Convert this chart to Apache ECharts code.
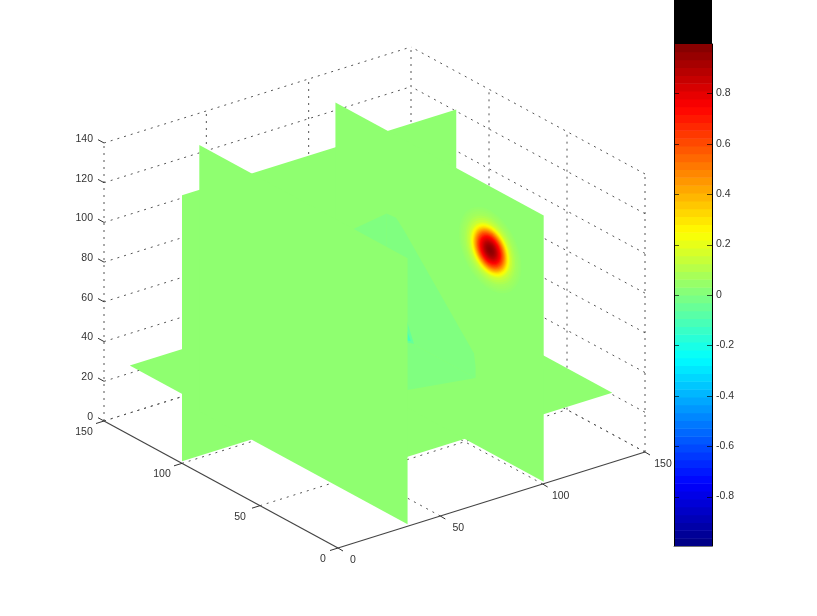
<!DOCTYPE html>
<html>
<head>
<meta charset="utf-8">
<style>
  html, body { margin: 0; padding: 0; background: #fff; }
  #chart { width: 817px; height: 616px; }
</style>
<script src="https://cdn.jsdelivr.net/npm/echarts@6/dist/echarts.min.js"></script>
</head>
<body>
<div id="chart"></div>
<script>
// axis ticks
const uTicks = [0, 50, 100, 150];
const vTicks = [0, 50, 100, 150];
const zTicks = [0, 20, 40, 60, 80, 100, 120, 140];
const barTicks = [-0.8, -0.6, -0.4, -0.2, 0, 0.2, 0.4, 0.6, 0.8];

// volume extent and slice positions
const uRange = [0, 134];
const vRange = [0, 133.5];
const zRange = [1, 135];
const uFront = 34;
const uBack = 100.5;
const vSlice = 100;
const zSlice = 35;

// values shown on the slices
const baseValue = 0.03;
const patchValue = 0;
const spotValues = [-0.05, -0.12];
const barRange = [-0.996, 0.996];
const barCapTop = 1.172;

const patchOnV = [[83.5, 100, 91], [100, 100, 93.6], [100, 100, 35], [60, 100, 35]];
const patchOnU = [[100, 100, 93.6], [100, 94, 94], [100, 89, 90], [100, 44, 47], [100, 43, 40.6], [100, 43, 35], [100, 100, 35]];
const patchOnZ = [[100, 43, 35], [72, 50, 35], [40, 58, 35], [40, 90, 35], [100, 90, 35]];
const spotOuter = [[100, 87.5, 46], [100, 82.5, 35.5], [100, 87.5, 34]];
const spotInner = [[100, 87.5, 41], [100, 84.5, 36], [100, 87.5, 35]];

// the hot spot on the u=100 slice: radius (in axis units) and value at that radius
const hotCentre = [34.3, 103];
const hotRadii = [20, 19, 18, 17, 16, 15, 14, 13, 12.5, 12, 11.5, 11, 10.5, 10, 9.5, 9, 8.5, 8, 7.5, 7, 6.5, 6, 5.5, 5, 4.5, 4, 3.5, 3, 2.5, 2, 1.5, 1];
const hotValues = [0.04, 0.05, 0.06, 0.07, 0.09, 0.11, 0.14, 0.17, 0.2, 0.23, 0.27, 0.31, 0.36, 0.41, 0.46, 0.51, 0.56, 0.61, 0.65, 0.7, 0.74, 0.77, 0.8, 0.83, 0.86, 0.89, 0.91, 0.93, 0.95, 0.96, 0.97, 0.98];

// view of the box, one plot unit is one pixel
function project(u, v, z) {
    return [
        (u * 307 - v * 234) / 150,
        (u * 96 + v * 127) / 150 + z * 1.986
    ];
}

function clip01(a) {
    return Math.max(0, Math.min(1, a));
}

function jet(value) {
    const t = (value + 1) / 2;
    const r = clip01(1.5 - Math.abs(4 * t - 3));
    const g = clip01(1.5 - Math.abs(4 * t - 2));
    const b = clip01(1.5 - Math.abs(4 * t - 1));
    return 'rgb(' + Math.round(r * 255) + ',' + Math.round(g * 255) + ',' + Math.round(b * 255) + ')';
}

function planeU(u) {
    return [[u, vRange[0], zRange[0]], [u, vRange[1], zRange[0]], [u, vRange[1], zRange[1]], [u, vRange[0], zRange[1]]];
}

function planeV(v) {
    return [[uRange[0], v, zRange[0]], [uRange[1], v, zRange[0]], [uRange[1], v, zRange[1]], [uRange[0], v, zRange[1]]];
}

function planeZ(z) {
    return [[uRange[0], vRange[0], z], [uRange[1], vRange[0], z], [uRange[1], vRange[1], z], [uRange[0], vRange[1], z]];
}

function ring(radius) {
    const points = [];
    for (let i = 0; i < 48; i++) {
        const a = i / 48 * Math.PI * 2;
        points.push([uBack, hotCentre[0] + radius * Math.cos(a), hotCentre[1] + radius * Math.sin(a)]);
    }
    return points;
}

// painted in this order, the front slice goes last as it hides the rest
const polygons = [
    {points: planeZ(zSlice), value: baseValue},
    {points: planeV(vSlice), value: baseValue},
    {points: planeU(uBack), value: baseValue},
    {points: patchOnU, value: patchValue},
    {points: patchOnV, value: patchValue},
    {points: patchOnZ, value: patchValue},
    {points: spotOuter, value: spotValues[0]},
    {points: spotInner, value: spotValues[1]}
];
hotRadii.forEach((r, i) => {
    polygons.push({points: ring(r), value: hotValues[i]});
});
polygons.push({points: planeU(uFront), value: baseValue});

// dotted walls and floor
const gridLines = [];
zTicks.forEach(z => {
    gridLines.push([0, 150, z, 150, 150, z]);
    gridLines.push([150, 0, z, 150, 150, z]);
});
uTicks.forEach(u => {
    gridLines.push([u, 150, 0, u, 150, 140]);
    if (u > 0) gridLines.push([u, 0, 0, u, 150, 0]);
});
vTicks.forEach(v => {
    if (v < 150) gridLines.push([150, v, 0, 150, v, 140]);
    if (v > 0) gridLines.push([0, v, 0, 150, v, 0]);
});

// solid axes with their short ticks
const axisLines = [[0, 0, 0, 150, 0, 0], [0, 0, 0, 0, 150, 0]];
const tickLines = [];
uTicks.forEach(u => tickLines.push({start: [u, 0, 0], dx: 5, dy: 3}));
vTicks.forEach(v => tickLines.push({start: [0, v, 0], dx: -8, dy: 2.5}));
zTicks.forEach(z => tickLines.push({start: [0, 150, z], dx: -6, dy: -3.3}));

// tick labels
const labels = [];
uTicks.forEach(u => labels.push({text: String(u), at: [u, 0, 0], dx: u === 0 ? 15 : 18, dy: 12, align: 'center'}));
vTicks.forEach(v => labels.push({text: String(v), at: [0, v, 0], dx: v === 0 ? -15 : -20, dy: 11, align: 'center'}));
zTicks.forEach(z => labels.push({text: String(z), at: [0, 150, z], dx: -11, dy: -4, align: 'right'}));

function toPixel(api, p) {
    return api.coord(project(p[0], p[1], p[2]));
}

function renderPolygon(params, api) {
    const item = polygons[api.value(0)];
    return {
        type: 'polygon',
        shape: {points: item.points.map(p => toPixel(api, p))},
        style: {fill: jet(item.value), stroke: null}
    };
}

function renderGrid(params, api) {
    const l = gridLines[api.value(0)];
    const a = toPixel(api, l.slice(0, 3));
    const b = toPixel(api, l.slice(3, 6));
    return {
        type: 'line',
        shape: {x1: a[0], y1: a[1], x2: b[0], y2: b[1]},
        style: {stroke: '#555', lineWidth: 1, lineDash: [2, 5]}
    };
}

function renderAxis(params, api) {
    const l = axisLines[api.value(0)];
    const a = toPixel(api, l.slice(0, 3));
    const b = toPixel(api, l.slice(3, 6));
    return {
        type: 'line',
        shape: {x1: a[0], y1: a[1], x2: b[0], y2: b[1]},
        style: {stroke: '#444', lineWidth: 1.2}
    };
}

function renderTick(params, api) {
    const t = tickLines[api.value(0)];
    const a = toPixel(api, t.start);
    return {
        type: 'line',
        shape: {x1: a[0], y1: a[1], x2: a[0] + t.dx, y2: a[1] + t.dy},
        style: {stroke: '#333', lineWidth: 1}
    };
}

function renderLabel(params, api) {
    const t = labels[api.value(0)];
    const a = toPixel(api, t.at);
    return {
        type: 'text',
        x: a[0] + t.dx,
        y: a[1] + t.dy,
        style: {
            text: t.text,
            fill: '#333',
            font: '10.5px "Liberation Sans", Arial, sans-serif',
            align: t.align,
            verticalAlign: 'middle'
        }
    };
}

function renderBar(params, api) {
    const i = api.value(0);
    const step = (barRange[1] - barRange[0]) / 64;
    const low = barRange[0] + i * step;
    const a = api.coord([0, low + step]);
    const b = api.coord([1, low]);
    return {
        type: 'rect',
        shape: {x: a[0], y: a[1], width: b[0] - a[0], height: b[1] - a[1] + 0.5},
        style: {fill: jet(-1 + (i + 0.5) / 32), stroke: null}
    };
}

function renderCap(params, api) {
    const a = api.coord([0, barCapTop]);
    const b = api.coord([1, barRange[1]]);
    return {
        type: 'rect',
        shape: {x: a[0], y: a[1], width: b[0] - a[0], height: b[1] - a[1]},
        style: {fill: '#000', stroke: null}
    };
}

// tick marks inside both edges of the colour bar
function renderBarTick(params, api) {
    const a = api.coord([0, api.value(0)]);
    const b = api.coord([1, api.value(0)]);
    const y = Math.round(a[1]) + 0.5;
    return {
        type: 'group',
        children: [
            {type: 'line', shape: {x1: a[0], y1: y, x2: a[0] + 5, y2: y}, style: {stroke: 'rgba(0,0,0,0.65)', lineWidth: 1}},
            {type: 'line', shape: {x1: b[0] - 5, y1: y, x2: b[0], y2: y}, style: {stroke: 'rgba(0,0,0,0.65)', lineWidth: 1}}
        ]
    };
}

function indexes(list) {
    return list.map((d, i) => [i]);
}

function viewSeries(list, render, z) {
    return {
        type: 'custom',
        xAxisIndex: 0,
        yAxisIndex: 0,
        coordinateSystem: 'cartesian2d',
        renderItem: render,
        data: indexes(list),
        encode: {x: 0},
        silent: true,
        clip: false,
        z: z
    };
}

const barBands = [];
for (let i = 0; i < 64; i++) barBands.push(i);

function barSeries(list, render, z) {
    return {
        type: 'custom',
        xAxisIndex: 1,
        yAxisIndex: 1,
        coordinateSystem: 'cartesian2d',
        renderItem: render,
        data: list.map(d => [d]),
        encode: {x: 0},
        silent: true,
        clip: false,
        z: z
    };
}

const barAxis = {
    type: 'value',
    gridIndex: 1,
    min: barRange[0],
    max: barRange[1],
    z: 10,
    splitLine: {show: false},
    axisTick: {show: false},
    axisLine: {show: true, onZero: false, lineStyle: {color: '#000', width: 1}}
};

const chart = echarts.init(document.getElementById('chart'), null, {renderer: 'canvas'});
chart.setOption({
    animation: false,
    backgroundColor: '#fff',
    tooltip: {show: false},
    grid: [
        {left: 104, top: 47, width: 541, height: 501},
        {left: 674, top: 44, width: 38, height: 502}
    ],
    xAxis: [
        {type: 'value', gridIndex: 0, min: -234, max: 307, show: false},
        {
            type: 'value',
            gridIndex: 1,
            min: 0,
            max: 1,
            position: 'bottom',
            z: 10,
            splitLine: {show: false},
            axisTick: {show: false},
            axisLabel: {show: false},
            axisLine: {show: true, onZero: false, lineStyle: {color: '#777', width: 1}}
        }
    ],
    yAxis: [
        {type: 'value', gridIndex: 0, min: 0, max: 501, show: false},
        Object.assign({}, barAxis, {
            position: 'right',
            axisLabel: {
                show: true,
                margin: 4,
                customValues: barTicks,
                formatter: v => String(v),
                color: '#333',
                fontSize: 10.5,
                fontFamily: '"Liberation Sans", Arial, sans-serif'
            }
        }),
        Object.assign({}, barAxis, {
            position: 'left',
            axisLabel: {show: false}
        })
    ],
    series: [
        viewSeries(gridLines, renderGrid, 1),
        viewSeries(polygons, renderPolygon, 2),
        viewSeries(axisLines, renderAxis, 3),
        viewSeries(tickLines, renderTick, 3),
        viewSeries(labels, renderLabel, 4),
        barSeries(barBands, renderBar, 1),
        barSeries([0], renderCap, 1),
        barSeries(barTicks, renderBarTick, 2)
    ]
});
</script>
</body>
</html>
